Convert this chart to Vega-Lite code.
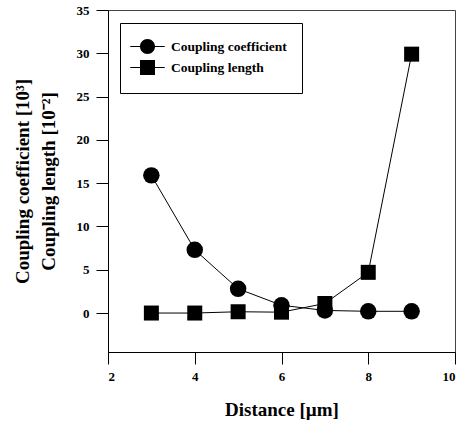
{
  "$schema": "https://vega.github.io/schema/vega-lite/v6.json",
  "width": 347,
  "height": 342,
  "autosize": {"type": "none"},
  "padding": {"left": 108, "top": 10, "right": 6, "bottom": 75},
  "background": "white",
  "data": {
    "values": [
      {"distance": 3, "series": "Coupling coefficient", "value": 15.9},
      {"distance": 4, "series": "Coupling coefficient", "value": 7.3},
      {"distance": 5, "series": "Coupling coefficient", "value": 2.8},
      {"distance": 6, "series": "Coupling coefficient", "value": 0.9},
      {"distance": 7, "series": "Coupling coefficient", "value": 0.3},
      {"distance": 8, "series": "Coupling coefficient", "value": 0.2},
      {"distance": 9, "series": "Coupling coefficient", "value": 0.2},
      {"distance": 3, "series": "Coupling length", "value": 0.0},
      {"distance": 4, "series": "Coupling length", "value": 0.0},
      {"distance": 5, "series": "Coupling length", "value": 0.15},
      {"distance": 6, "series": "Coupling length", "value": 0.1},
      {"distance": 7, "series": "Coupling length", "value": 1.1},
      {"distance": 8, "series": "Coupling length", "value": 4.7},
      {"distance": 9, "series": "Coupling length", "value": 29.9}
    ]
  },
  "encoding": {
    "x": {
      "field": "distance", "type": "quantitative",
      "scale": {"domain": [2, 10], "nice": false, "zero": false},
      "axis": {"values": [2, 4, 6, 8, 10], "title": "Distance [µm]", "labelPadding": 6, "titlePadding": 17}
    },
    "y": {
      "field": "value", "type": "quantitative",
      "scale": {"domain": [-4.5, 35], "nice": false, "zero": false},
      "axis": {
        "values": [0, 5, 10, 15, 20, 25, 30, 35],
        "title": ["Coupling coefficient [10³]", "Coupling length [10⁻²]"],
        "titleLineHeight": 26,
        "labelPadding": 7,
        "titlePadding": 18
      }
    }
  },
  "layer": [
    {
      "mark": {"type": "line", "color": "black", "strokeWidth": 1},
      "encoding": {"detail": {"field": "series"}}
    },
    {
      "mark": {"type": "point", "filled": true, "color": "black", "opacity": 1},
      "encoding": {
        "shape": {
          "field": "series", "type": "nominal",
          "scale": {"domain": ["Coupling coefficient", "Coupling length"], "range": ["circle", "square"]},
          "legend": null
        },
        "size": {"condition": {"test": "datum.series === 'Coupling length'", "value": 225}, "value": 272}
      }
    },
    {
      "transform": [{"filter": "datum.distance < 0"}],
      "mark": {"type": "point", "filled": true, "color": "black", "opacity": 1},
      "encoding": {
        "shape": {
          "field": "series", "type": "nominal",
          "scale": {
            "domain": ["Coupling coefficient", "Coupling length"],
            "range": [
              "M-2.3,-0.07H-0.95V0.07H-2.3ZM0.95,-0.07H2.3V0.07H0.95ZM1,0A1,1,0,1,1,-1,0A1,1,0,1,1,1,0Z",
              "M-2.3,-0.07H-0.95V0.07H-2.3ZM0.95,-0.07H2.3V0.07H0.95ZM-1,-1H1V1H-1Z"
            ]
          },
          "legend": {
            "title": null,
            "orient": "none",
            "legendX": 12,
            "legendY": 13,
            "strokeColor": "black",
            "padding": 15,
            "symbolSize": 225,
            "symbolOffset": 4,
            "labelOffset": 15,
            "rowPadding": 0,
            "symbolFillColor": "black",
            "symbolOpacity": 1,
            "labelFont": "Liberation Serif",
            "labelFontWeight": "bold",
            "labelFontSize": 13.5,
            "labelColor": "black"
          }
        },
        "size": {"value": 225}
      }
    }
  ],
  "resolve": {"scale": {"shape": "independent"}, "legend": {"shape": "independent"}},
  "config": {
    "view": {"stroke": "#444", "strokeWidth": 1},
    "axis": {
      "labelFont": "Liberation Serif",
      "titleFont": "Liberation Serif",
      "labelFontWeight": "bold",
      "titleFontWeight": "bold",
      "labelColor": "black",
      "titleColor": "black",
      "domainColor": "black",
      "tickColor": "black",
      "grid": false,
      "tickSize": 12,
      "labelFontSize": 13,
      "titleFontSize": 19
    }
  }
}
